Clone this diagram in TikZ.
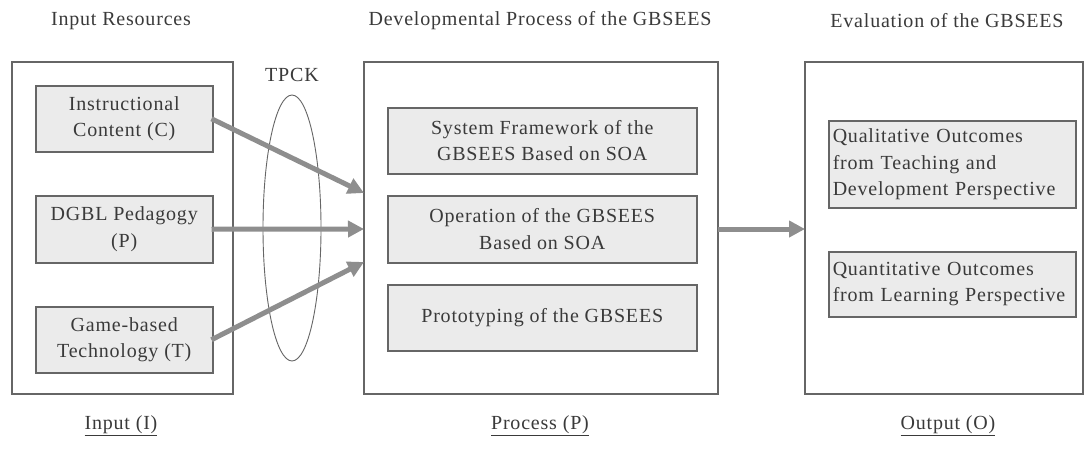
\documentclass[tikz,border=0pt]{standalone}
\usepackage{fontspec}
\setmainfont[LetterSpace=4]{Liberation Serif}
\usetikzlibrary{arrows.meta,shapes.geometric}
\definecolor{txt}{HTML}{3A3A3A}
\definecolor{edge}{HTML}{666666}
\definecolor{boxfill}{HTML}{EBEBEB}
\definecolor{arr}{HTML}{8E8E8E}
\tikzset{
  outerbox/.style={draw=edge, line width=1.4pt, fill=white},
  innerbox/.style={draw=edge, line width=1.5pt, fill=boxfill},
  lbl/.style={text=txt, font=\fontsize{20}{26.5}\selectfont, align=center},
  flow/.style={draw=arr, line width=5pt, -{Triangle[length=16pt,width=16pt]}, shorten <=0pt},
}
\begin{document}
\begin{tikzpicture}[x=1pt,y=-1pt]
\useasboundingbox (0,0) rectangle (1084,450);
\fill[white] (0,0) rectangle (1084,450);
% titles
\node[lbl] (t1) at (121,21) {Input Resources};
\node[lbl] (t2) at (540,21) {Developmental Process of the GBSEES};
\node[lbl] (t3) at (947,21) {Evaluation of the GBSEES};
% outer boxes
\draw[outerbox] (12,62) rectangle (233,394);
\draw[outerbox] (364,62) rectangle (718,394);
\draw[outerbox] (805,62) rectangle (1083,394);
\coordinate (pL1) at (364,193);
\coordinate (pL2) at (364,229);
\coordinate (pL3) at (364,262);
\coordinate (pR) at (718,229);
\coordinate (oL) at (805,229);
% input boxes
\node[innerbox, lbl, minimum width=177pt, minimum height=66pt, anchor=north west, inner sep=0pt] (c) at (35,85) {Instructional\\Content (C)};
\node[innerbox, lbl, minimum width=177pt, minimum height=67pt, anchor=north west, inner sep=0pt] (p) at (35,195) {DGBL Pedagogy\\(P)};
\node[innerbox, lbl, minimum width=177pt, minimum height=66pt, anchor=north west, inner sep=0pt] (t) at (35,306) {Game-based\\Technology (T)};
% ellipse
\node[draw=edge, line width=0.9pt, ellipse, minimum width=58pt, minimum height=266pt, inner sep=0pt] (tp) at (292,228) {};
\node[lbl] (tpck) at (292,75) {TPCK};
% process boxes
\node[innerbox, lbl, minimum width=309pt, minimum height=66pt, anchor=north west, inner sep=0pt] (s1) at (387,107) {System Framework of the\\GBSEES Based on SOA};
\node[innerbox, lbl, minimum width=309pt, minimum height=67pt, anchor=north west, inner sep=0pt] (s2) at (387,195) {Operation of the GBSEES\\Based on SOA};
\node[innerbox, lbl, minimum width=309pt, minimum height=66pt, anchor=north west, inner sep=0pt] (s3) at (387,284) {Prototyping of the GBSEES};
% output boxes
\node[innerbox, lbl, align=left, text width=239pt, minimum height=87pt, anchor=north west, inner sep=0pt, inner xsep=4pt] (o1) at (828,120) {Qualitative Outcomes\\from Teaching and\\Development Perspective};
\node[innerbox, lbl, align=left, text width=239pt, minimum height=65pt, anchor=north west, inner sep=0pt, inner xsep=4pt] (o2) at (828,251) {Quantitative Outcomes\\from Learning Perspective};
% arrows
\draw[flow] (c.east) ++(-2,0) coordinate (cs) (cs) -- (pL1);
\draw[flow] (p.east) ++(-2,0) coordinate (ps) (ps) -- (pL2);
\draw[flow] (t.east) ++(-2,0) coordinate (ts) (ts) -- (pL3);
\draw[flow] (pR) -- (oL);
% bottom labels
\node[lbl] (b1) at (121,426) {\underline{Input (I)}};
\node[lbl] (b2) at (540,426) {\underline{Process (P)}};
\node[lbl] (b3) at (948,426) {\underline{Output (O)}};
\end{tikzpicture}
\end{document}
